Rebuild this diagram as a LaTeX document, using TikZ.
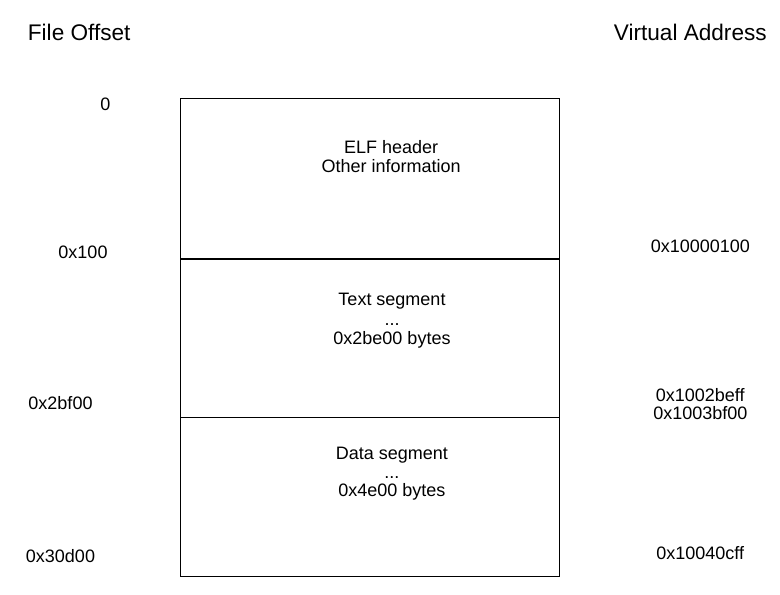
\documentclass[tikz,border=0pt]{standalone}
\usepackage{fontspec}
\setmainfont{Liberation Sans}
\begin{document}
\begin{tikzpicture}[x=1pt,y=-1pt,
  lbl/.style={anchor=base,inner sep=0pt,font=\fontsize{18}{19}\selectfont},
  ttl/.style={anchor=base,inner sep=0pt,font=\fontsize{22.6}{24}\selectfont},
  boxline/.style={draw=black,line width=1pt},
  thickline/.style={draw=black,line width=2pt}]
\useasboundingbox[fill=white] (0,0) rectangle (780,595);
% titles
\node[ttl] (tfo) at (79.2,40.5) {File Offset};
\node[ttl] (tva) at (690.3,40.5) {Virtual Address};
% box
\coordinate (tl) at (180.5,98.5);
\coordinate (br) at (559.5,576.5);
\draw[boxline] (tl) rectangle (br);
\coordinate (d1l) at (180.5,259);
\coordinate (d1r) at (559.5,259);
\coordinate (d2l) at (180.5,417.3);
\coordinate (d2r) at (559.5,417.3);
\draw[thickline] (d1l) -- (d1r);
\draw[boxline] (d2l) -- (d2r);
% inner texts
\node[lbl] (elf1) at (391.2,153.3) {ELF header};
\node[lbl] (elf2) at (391.2,172.3) {Other information};
\node[lbl] (txt1) at (392,305.7) {Text segment};
\node[lbl] (txt2) at (392,325.3) {...};
\node[lbl] (txt3) at (392,344.3) {0x2be00 bytes};
\node[lbl] (dat1) at (391.8,459) {Data segment};
\node[lbl] (dat2) at (391.8,478.3) {...};
\node[lbl] (dat3) at (391.8,496.5) {0x4e00 bytes};
% file offsets
\node[lbl] (fo0) at (105.5,110.5) {0};
\node[lbl] (fo1) at (83,258.3) {0x100};
\node[lbl] (fo2) at (60.5,409.3) {0x2bf00};
\node[lbl] (fo3) at (60.5,562.3) {0x30d00};
% virtual addresses
\node[lbl] (va1) at (700.3,252.7) {0x10000100};
\node[lbl] (va2) at (700.3,401.7) {0x1002beff};
\node[lbl] (va3) at (700.3,419.3) {0x1003bf00};
\node[lbl] (va4) at (700.3,559) {0x10040cff};
\end{tikzpicture}
\end{document}
